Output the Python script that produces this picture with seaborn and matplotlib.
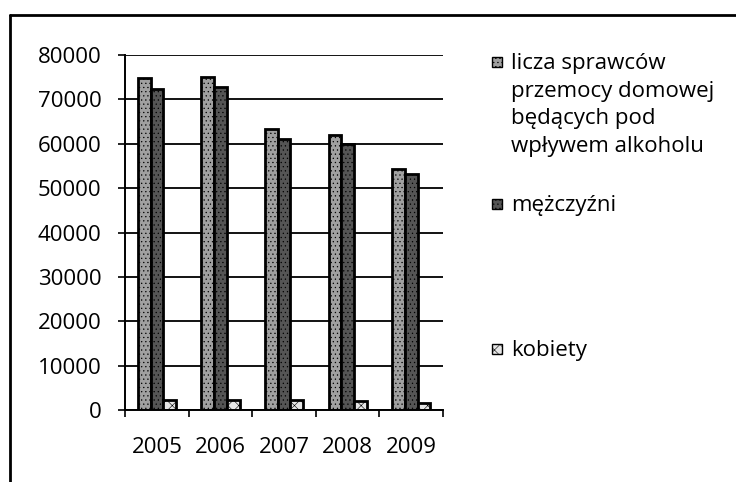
import pandas as pd
import matplotlib.pyplot as plt
import seaborn as sns
from matplotlib.patches import Rectangle
from matplotlib.lines import Line2D

# -----------------------------
# Data
# -----------------------------
lata = ["2005", "2006", "2007", "2008", "2009"]
sprawcy = [74800, 75000, 63300, 62000, 54300]
mezczyzni = [72400, 72800, 61100, 59900, 53300]
kobiety = [2400, 2200, 2200, 2100, 1600]

serie = ["licza sprawców\nprzemocy domowej\nbędących pod\nwpływem alkoholu",
         "mężczyźni", "kobiety"]

df = pd.DataFrame({
    "rok": lata * 3,
    "seria": [serie[0]] * 5 + [serie[1]] * 5 + [serie[2]] * 5,
    "wartosc": sprawcy + mezczyzni + kobiety,
})

# Style
sns.set_theme(style="white")
plt.rcParams["font.family"] = ["Open Sans", "DejaVu Sans"]
plt.rcParams["text.color"] = "black"
plt.rcParams["xtick.color"] = "black"
plt.rcParams["ytick.color"] = "black"
plt.rcParams["hatch.color"] = "#222222"
plt.rcParams["hatch.linewidth"] = 0.4

FS = 16

fig = plt.figure(figsize=(7.36, 4.82), dpi=100)
ax = fig.add_axes([0.170, 0.149, 0.432, 0.737])

kolory = ["#a0a0a0", "#555555", "#e6e6e6"]
wzory = ["....", "....", "xxx"]
sns.barplot(data=df, x="rok", y="wartosc", hue="seria", palette=kolory,
            width=0.6, edgecolor="black", linewidth=2, ax=ax, legend=False)

for cont, h in zip(ax.containers, wzory):
    for p in cont:
        p.set_hatch(h)

# -----------------------------
# Axes
# -----------------------------
ax.set_ylim(0, 80000)
ax.set_xlim(-0.5, 4.5)
ax.set_yticks(range(0, 80001, 10000))
ax.set_yticklabels([str(v) for v in range(0, 80001, 10000)], fontsize=FS)
ax.tick_params(axis="x", labelsize=FS, length=0, pad=19)
ax.set_xticks([-0.5, 0.5, 1.5, 2.5, 3.5, 4.5], minor=True)
ax.tick_params(axis="x", which="minor", length=5, width=1.2, color="black",
               direction="out", bottom=True)
ax.tick_params(axis="y", length=5, width=1.2, color="black", direction="out",
               left=True, pad=12)
ax.set_xlabel("")
ax.set_ylabel("")
ax.yaxis.grid(True, color="black", linewidth=1.3)
ax.set_axisbelow(True)
for s in ["top", "right"]:
    ax.spines[s].set_visible(False)
for s in ["left", "bottom"]:
    ax.spines[s].set_color("black")
    ax.spines[s].set_linewidth(1.4)

# -----------------------------
# Legend (Excel style: marker at first line)
# -----------------------------
W, H = 736, 482
leg_y = [62, 204, 349]
for lab, kol, h, y in zip(serie, kolory, wzory, leg_y):
    fig.patches.append(Rectangle((492 / W, 1 - (y + 5) / H), 10 / W, 10 / H,
                                 transform=fig.transFigure, facecolor=kol,
                                 edgecolor="black", linewidth=1, hatch=h))
    fig.text(511 / W, 1 - (y - 9) / H, lab, fontsize=FS, va="top", ha="left",
             linespacing=1.42)

# outer frame (top and left edge visible)
fig.add_artist(Line2D([10 / W, 10 / W], [0, 1 - 15 / H], transform=fig.transFigure,
                      color="black", linewidth=2))
fig.add_artist(Line2D([10 / W, 1], [1 - 15 / H, 1 - 15 / H], transform=fig.transFigure,
                      color="black", linewidth=2))

fig.savefig("out.png", dpi=100)
